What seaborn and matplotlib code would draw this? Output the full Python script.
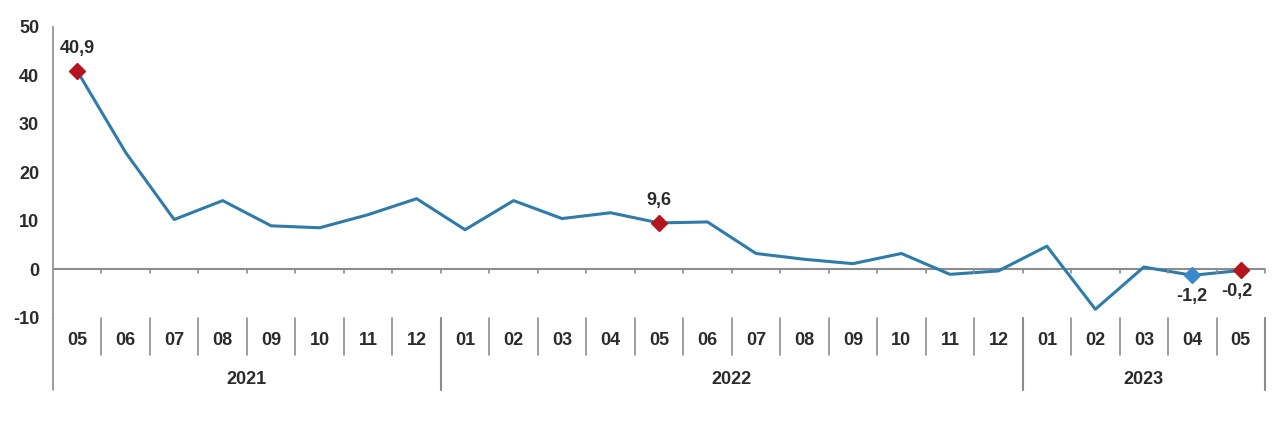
import matplotlib
matplotlib.use('Agg')
import matplotlib.pyplot as plt
import matplotlib.transforms as mtransforms
import numpy as np
import pandas as pd
import seaborn as sns

# data
months = ['05', '06', '07', '08', '09', '10', '11', '12',
          '01', '02', '03', '04', '05', '06', '07', '08', '09', '10', '11', '12',
          '01', '02', '03', '04', '05']
years = ['2021', '2022', '2023']
year_counts = [8, 12, 5]
values = [40.9, 24.1, 10.3, 14.2, 9.0, 8.6, 11.3, 14.6,
          8.2, 14.2, 10.5, 11.7, 9.6, 9.8, 3.3, 2.1, 1.2, 3.3, -1.0, -0.3,
          4.8, -8.2, 0.5, -1.2, -0.2]
labelled = {0: '40,9', 12: '9,6', 23: '-1,2', 24: '-0,2'}

sns.set_style('white')
plt.rcParams['font.family'] = ['Liberation Sans', 'DejaVu Sans']

df = pd.DataFrame({'pos': np.arange(len(values)), 'value': values})

fig = plt.figure(figsize=(12.8, 4.21), dpi=100)
ax = fig.add_axes([0.0414, 0.2447, 0.9469, 0.6912])

line_col = '#2F7BAA'
red = '#B3141E'
blue = '#3A88CC'
grey = '#8C8C8C'
txt = '#2B2B2B'
fs = 13

sns.lineplot(data=df, x='pos', y='value', ax=ax, color=line_col, linewidth=2.2)

# highlighted points
for i, lab in labelled.items():
    col = blue if i == 23 else red
    ax.plot(i, values[i], marker='D', color=col, markersize=8, markeredgecolor=col, zorder=5)
    if values[i] > 0:
        ax.annotate(lab, (i, values[i]), xytext=(0, 10), textcoords='offset points',
                    ha='center', va='bottom', fontsize=fs, fontweight='bold', color=txt)
    else:
        dx = -3 if i == 24 else 0
        ax.annotate(lab, (i, values[i]), xytext=(dx, -9), textcoords='offset points',
                    ha='center', va='top', fontsize=fs, fontweight='bold', color=txt)

n = len(values)
ax.set_xlim(-0.5, n - 0.5)
ax.set_ylim(-10, 50)
ax.set_yticks([-10, 0, 10, 20, 30, 40, 50])
ax.set_yticklabels(['-10', '0', '10', '20', '30', '40', '50'])
ax.tick_params(axis='y', length=4, color=grey, labelsize=fs, labelcolor=txt, pad=6)
for t in ax.get_yticklabels():
    t.set_fontweight('bold')
ax.set_xticks([])
ax.set_xlabel('')
ax.set_ylabel('')

for s in ['top', 'right', 'bottom']:
    ax.spines[s].set_visible(False)
ax.spines['left'].set_color(grey)
ax.spines['left'].set_linewidth(1.2)

# zero line with small ticks
ax.axhline(0, color=grey, linewidth=1.5, zorder=1)
trans = mtransforms.blended_transform_factory(ax.transData, ax.transAxes)
for b in np.arange(0.5, n, 1.0):
    ax.plot([b, b], [0, -0.8], color=grey, linewidth=1.2, clip_on=False)

# left axis extension below plot
ax.plot([-0.5, -0.5], [0, -0.247], transform=trans, color=grey, linewidth=1.2, clip_on=False)

# month labels and separators
for i, m in enumerate(months):
    ax.text(i, -0.076, m, transform=trans, ha='center', va='center',
            fontsize=fs, fontweight='bold', color=txt)
year_edges = np.cumsum([0] + year_counts) - 0.5
for b in np.arange(0.5, n - 1, 1.0):
    if b in year_edges:
        continue
    ax.plot([b, b], [0, -0.127], transform=trans, color=grey, linewidth=1.2, clip_on=False)
for b in year_edges[1:]:
    ax.plot([b, b], [0, -0.247], transform=trans, color=grey, linewidth=1.5, clip_on=False)

# year labels
for k, y in enumerate(years):
    mid = (year_edges[k] + year_edges[k + 1]) / 2
    ax.text(mid, -0.213, y, transform=trans, ha='center', va='center',
            fontsize=fs, fontweight='bold', color=txt)

fig.savefig('out.png', dpi=100)
